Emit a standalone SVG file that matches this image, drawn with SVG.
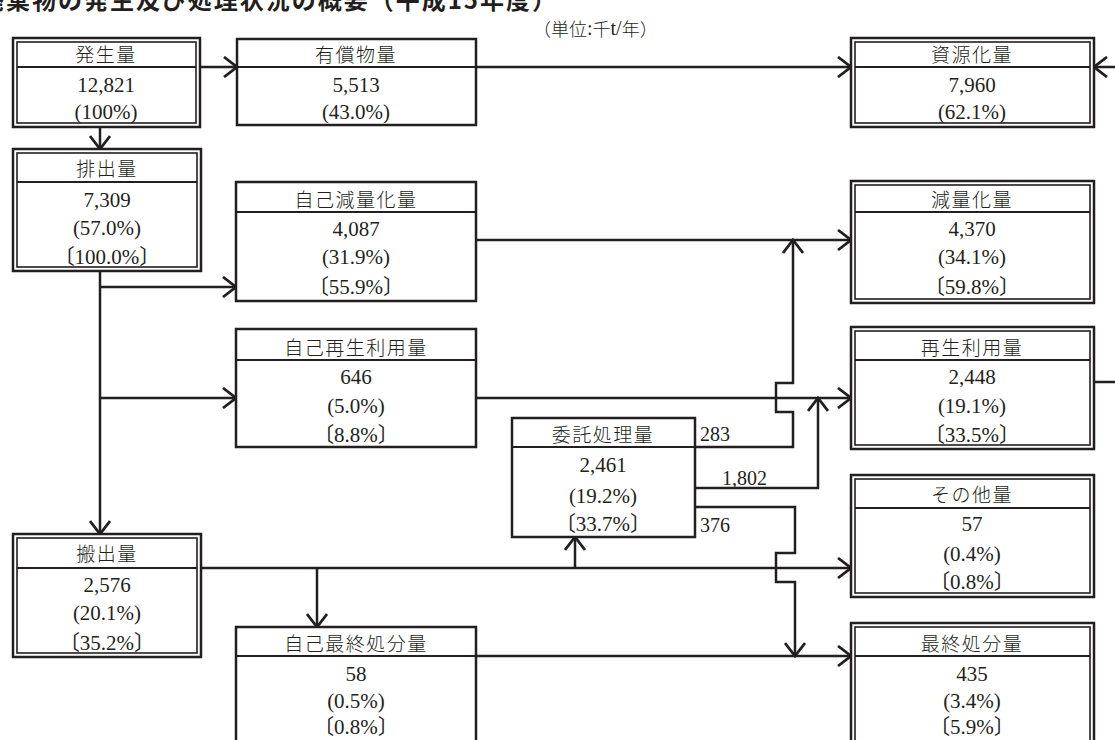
<svg xmlns="http://www.w3.org/2000/svg" width="1115" height="740" viewBox="0 0 1115 740">
<style>
.bx{fill:#fff;stroke:#231f20;stroke-width:2.5}
.in{fill:none;stroke:#231f20;stroke-width:1.6}
.hd{stroke:#231f20;stroke-width:2}
.t{font-family:"Liberation Serif","Noto Sans CJK JP",serif;font-size:21px;fill:#231f20;text-anchor:middle;dominant-baseline:central}
.j{font-family:"Noto Sans CJK JP",sans-serif;font-size:19px;letter-spacing:1.5px;font-weight:300;fill:#231f20;text-anchor:middle;dominant-baseline:central}
.lb{font-family:"Liberation Serif","Noto Sans CJK JP",serif;font-size:20px;fill:#231f20;dominant-baseline:central}
.u{font-family:"Noto Sans CJK JP",sans-serif;font-size:18px;font-weight:300}
.ttl{font-family:"Noto Sans CJK JP",sans-serif;font-size:24px;font-weight:bold;fill:#231f20}
.c{fill:none;stroke:#231f20;stroke-width:2.5}
.a{marker-end:url(#ah)}
</style>
<defs>
<marker id="ah" viewBox="0 0 16 22" refX="14" refY="11" markerWidth="16" markerHeight="22" markerUnits="userSpaceOnUse" orient="auto">
<path d="M1,1 L14,11 L1,21" fill="none" stroke="#231f20" stroke-width="2.8"/>
</marker>
</defs>
<rect width="1115" height="740" fill="#fff"/>
<text class="ttl" x="-72" y="9" textLength="628" lengthAdjust="spacing">産業廃棄物の発生及び処理状況の概要（平成15年度）</text>
<text class="lb" x="533" y="28"><tspan class="u">（単位</tspan>:<tspan class="u">千</tspan>t/<tspan class="u">年）</tspan></text>

<g id="connectors">
<path class="c a" d="M200,67 H237"/>
<path class="c a" d="M476,67 H851"/>
<path class="c a" d="M1117,67 H1094"/>
<path class="c a" d="M100,127 V149"/>
<path class="c a" d="M100,271 V534"/>
<path class="c a" d="M100,287 H236"/>
<path class="c a" d="M100,398 H236"/>
<path class="c a" d="M476,240 H851"/>
<path class="c a" d="M476,398 H851"/>
<path class="c" d="M1094,382 H1117"/>
<path class="c a" d="M695,447 H793 V412 H776 V383 H793 V240"/>
<path class="c a" d="M695,488 H818 V398"/>
<path class="c a" d="M695,507 H795 V553 H776 V582 H795 V656"/>
<path class="c a" d="M201,568 H851"/>
<path class="c a" d="M317,568 V627"/>
<path class="c a" d="M575,568 V537"/>
<path class="c a" d="M476,656 H851"/>
</g>

<g id="n-hasseiryo">
<rect class="bx" x="13" y="38" width="187" height="89"/>
<rect class="in" x="17" y="42" width="179" height="81"/>
<line class="hd" x1="17" y1="67" x2="196" y2="67"/>
<text class="j" x="106" y="53">発生量</text>
<text class="t" x="106" y="85">12,821</text>
<text class="t" x="106" y="112">(100%)</text>
</g>

<g id="n-yushobutsu">
<rect class="bx" x="237" y="39" width="239" height="86"/>
<line class="hd" x1="237" y1="67" x2="476" y2="67"/>
<text class="j" x="356" y="53">有償物量</text>
<text class="t" x="356" y="85">5,513</text>
<text class="t" x="356" y="112">(43.0%)</text>
</g>

<g id="n-shigenka">
<rect class="bx" x="851" y="38" width="243" height="89"/>
<rect class="in" x="855" y="42" width="235" height="81"/>
<line class="hd" x1="855" y1="67" x2="1090" y2="67"/>
<text class="j" x="972" y="53">資源化量</text>
<text class="t" x="972" y="85">7,960</text>
<text class="t" x="972" y="112">(62.1%)</text>
</g>

<g id="n-haishutsu">
<rect class="bx" x="13" y="149" width="188" height="122"/>
<rect class="in" x="17" y="153" width="180" height="114"/>
<line class="hd" x1="17" y1="182" x2="197" y2="182"/>
<text class="j" x="107" y="167">排出量</text>
<text class="t" x="107" y="200">7,309</text>
<text class="t" x="107" y="228">(57.0%)</text>
<text class="t" x="107" y="257">〔100.0%〕</text>
</g>

<g id="n-jikogenryo">
<rect class="bx" x="236" y="182" width="240" height="119"/>
<line class="hd" x1="236" y1="212" x2="476" y2="212"/>
<text class="j" x="356" y="198">自己減量化量</text>
<text class="t" x="356" y="229">4,087</text>
<text class="t" x="356" y="257">(31.9%)</text>
<text class="t" x="356" y="287">〔55.9%〕</text>
</g>

<g id="n-genryoka">
<rect class="bx" x="851" y="181" width="243" height="122"/>
<rect class="in" x="855" y="185" width="235" height="114"/>
<line class="hd" x1="855" y1="212" x2="1090" y2="212"/>
<text class="j" x="972" y="198">減量化量</text>
<text class="t" x="972" y="229">4,370</text>
<text class="t" x="972" y="257">(34.1%)</text>
<text class="t" x="972" y="287">〔59.8%〕</text>
</g>

<g id="n-jikosaisei">
<rect class="bx" x="236" y="329" width="240" height="118"/>
<line class="hd" x1="236" y1="360" x2="476" y2="360"/>
<text class="j" x="356" y="346">自己再生利用量</text>
<text class="t" x="356" y="377">646</text>
<text class="t" x="356" y="406">(5.0%)</text>
<text class="t" x="356" y="435">〔8.8%〕</text>
</g>

<g id="n-saisei">
<rect class="bx" x="851" y="327" width="243" height="122"/>
<rect class="in" x="855" y="331" width="235" height="114"/>
<line class="hd" x1="855" y1="360" x2="1090" y2="360"/>
<text class="j" x="972" y="346">再生利用量</text>
<text class="t" x="972" y="377">2,448</text>
<text class="t" x="972" y="406">(19.1%)</text>
<text class="t" x="972" y="435">〔33.5%〕</text>
</g>

<g id="n-itaku">
<rect class="bx" x="512" y="418" width="183" height="119"/>
<line class="hd" x1="512" y1="447" x2="695" y2="447"/>
<text class="j" x="603" y="433">委託処理量</text>
<text class="t" x="603" y="465">2,461</text>
<text class="t" x="603" y="496">(19.2%)</text>
<text class="t" x="603" y="524">〔33.7%〕</text>
<text class="lb" x="700" y="434">283</text>
<text class="lb" x="722" y="478">1,802</text>
<text class="lb" x="700" y="525">376</text>
</g>

<g id="n-hanshutsu">
<rect class="bx" x="13" y="534" width="188" height="123"/>
<rect class="in" x="17" y="538" width="180" height="115"/>
<line class="hd" x1="17" y1="568" x2="197" y2="568"/>
<text class="j" x="107" y="552">搬出量</text>
<text class="t" x="107" y="585">2,576</text>
<text class="t" x="107" y="613">(20.1%)</text>
<text class="t" x="107" y="643">〔35.2%〕</text>
</g>

<g id="n-sonota">
<rect class="bx" x="851" y="475" width="243" height="122"/>
<rect class="in" x="855" y="479" width="235" height="114"/>
<line class="hd" x1="855" y1="508" x2="1090" y2="508"/>
<text class="j" x="972" y="493">その他量</text>
<text class="t" x="972" y="524">57</text>
<text class="t" x="972" y="554">(0.4%)</text>
<text class="t" x="972" y="582">〔0.8%〕</text>
</g>

<g id="n-jikosaishu">
<rect class="bx" x="236" y="627" width="240" height="140"/>
<line class="hd" x1="236" y1="656" x2="476" y2="656"/>
<text class="j" x="356" y="642">自己最終処分量</text>
<text class="t" x="356" y="674">58</text>
<text class="t" x="356" y="701">(0.5%)</text>
<text class="t" x="356" y="727">〔0.8%〕</text>
</g>

<g id="n-saishu">
<rect class="bx" x="851" y="623" width="243" height="140"/>
<rect class="in" x="855" y="627" width="235" height="140"/>
<line class="hd" x1="855" y1="656" x2="1090" y2="656"/>
<text class="j" x="972" y="642">最終処分量</text>
<text class="t" x="972" y="674">435</text>
<text class="t" x="972" y="701">(3.4%)</text>
<text class="t" x="972" y="727">〔5.9%〕</text>
</g>
</svg>
